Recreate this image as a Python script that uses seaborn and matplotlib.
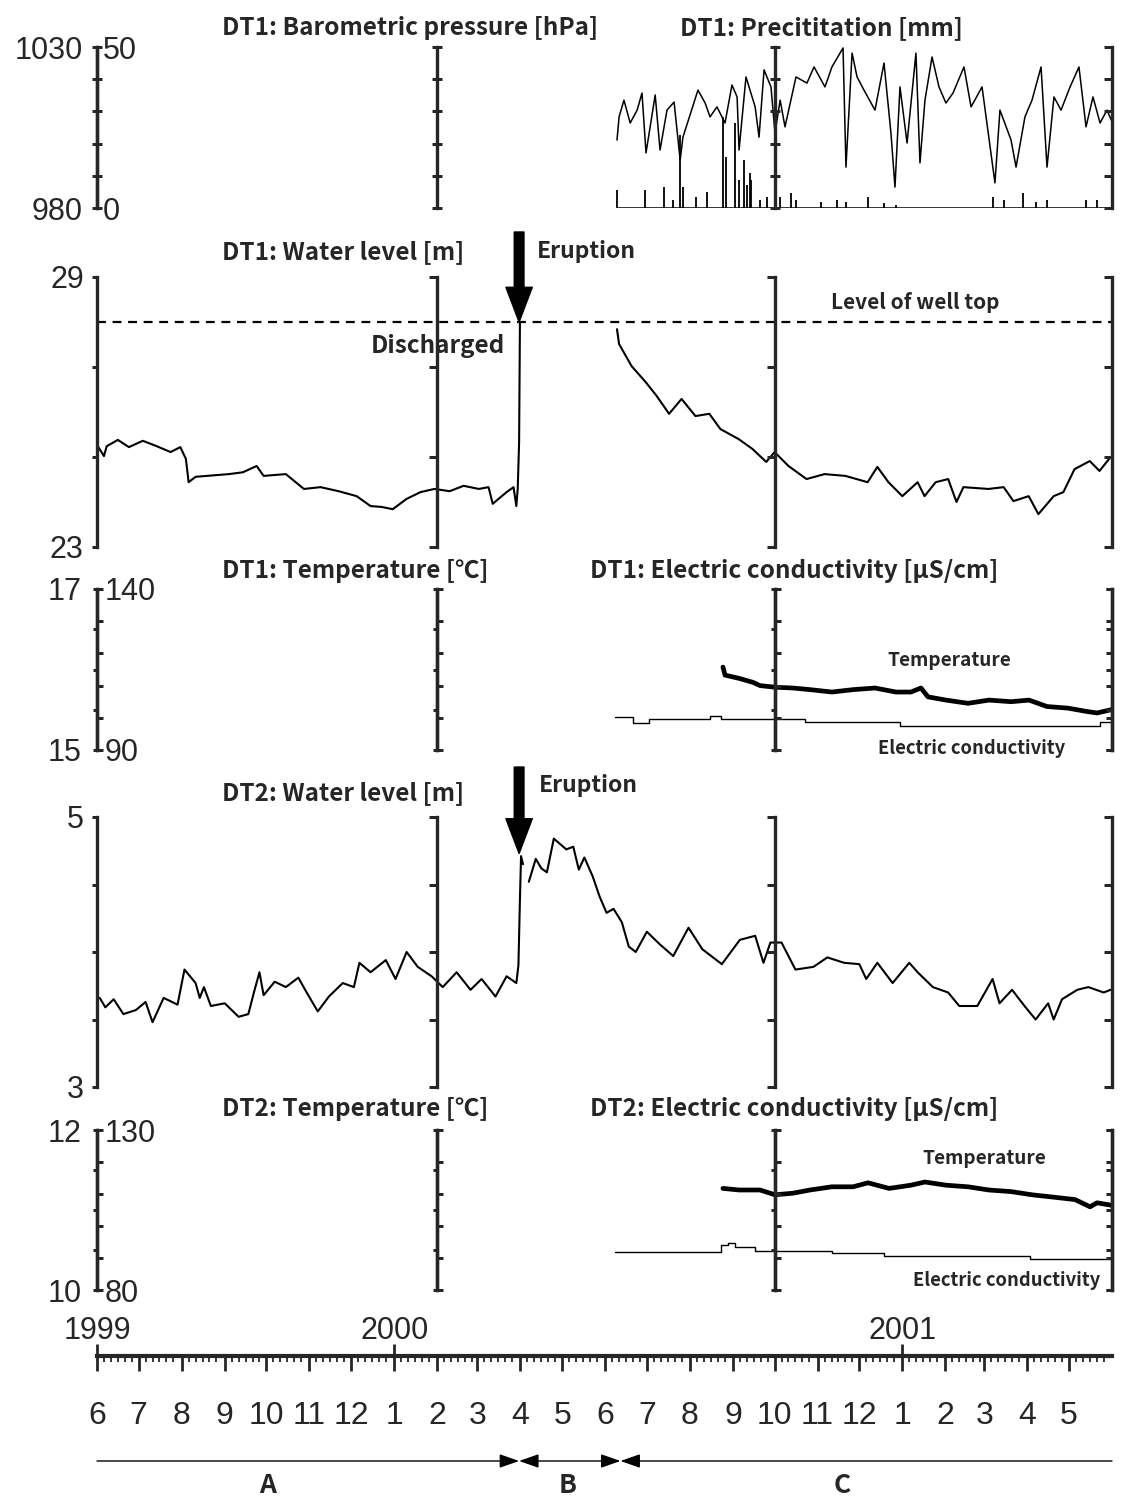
import numpy as np
import pandas as pd
import matplotlib
matplotlib.use("Agg")
import matplotlib.pyplot as plt
import matplotlib.dates as mdates
import matplotlib.ticker as mticker
import seaborn as sns

# ---------------- data (day = days since 1999-06-01) ----------------
START = pd.Timestamp("1999-06-01")
END = pd.Timestamp("2001-06-01")
segment_edges = ["1999-06-01", "2000-02-01", "2000-10-01", "2001-06-01"]
eruption = "2000-03-31"
period_edges = ["1999-06-01", "2000-03-31", "2000-06-12", "2001-06-01"]
period_labels = ["A", "B", "C"]
period_label_day = [123, 339, 537]
well_top_m = 28.0

pressure_day = [374.5, 376, 379.5, 384, 389, 392.5, 395.4, 402, 405.5, 410.5, 415.6, 420, 422,
                432.8, 438, 441.5, 446.5, 452.3, 457.3, 461, 462.4, 467.4, 474, 476.8, 480.4,
                485.4, 488.3, 492, 495.5, 503.4, 511.3, 516.4, 524.3, 529.3, 537.3, 539.4,
                543.8, 547.4, 552.4, 560.3, 566.8, 571.8, 574.7, 578.3, 583.4, 589.8, 592.7,
                596.3, 601.4, 606.4, 611.4, 616.5, 624.4, 629.5, 637.4, 646.7, 650.3, 658.3,
                661.9, 668.3, 673.4, 679.9, 684.2, 689.2, 694.3, 700.8, 707.2, 712.3, 717.3,
                722.4, 727.4, 730.5]
pressure_hpa = [1001.1, 1008.3, 1013.5, 1006.4, 1010.4, 1015.7, 997.1, 1015.1, 998.0, 1010.4,
                1012.9, 994.9, 1002.0, 1016.6, 1012.6, 1008.3, 1011.4, 1006.4, 1018.2, 1014.5,
                998.0, 1020.7, 1011.4, 1002.0, 1022.9, 1017.6, 1003.3, 1013.5, 1005.2, 1020.7,
                1018.8, 1023.8, 1017.6, 1023.8, 1029.7, 992.7, 1028.1, 1020.7, 1016.6, 1010.4,
                1025.0, 1003.3, 986.5, 1017.6, 1000.2, 1028.1, 994.0, 1013.5, 1026.9, 1017.6,
                1012.6, 1015.7, 1023.8, 1011.4, 1017.6, 987.8, 1010.4, 1001.1, 992.7, 1008.3,
                1013.5, 1023.8, 992.7, 1014.5, 1010.4, 1017.6, 1023.8, 1005.2, 1014.5, 1006.4,
                1010.4, 1007.3]

precip_day = [374.5, 394.7, 408.3, 414.8, 419.9, 422.0, 431.4, 439.3, 450.8, 453.0, 459.5,
              462.4, 466, 468, 470.3, 471.0, 477.5, 482.5, 491.9, 499.8, 503.4, 521.4, 533.0,
              539.4, 555.3, 566.8, 575.4, 645.3, 653.2, 666.9, 676.3, 684.2, 712.3, 720.2]
precip_mm = [5.6, 5.6, 6.5, 2.5, 22.7, 6.5, 3.4, 5.0, 28.3, 15.8, 26.4, 8.7, 15.0, 7.0, 10.9,
             8.7, 2.5, 3.4, 3.4, 4.6, 2.5, 1.9, 2.5, 1.9, 3.4, 1.5, 1.0, 3.4, 2.5, 4.6, 1.9,
             2.5, 2.5, 2.5]

dt1_wl_pre_day = [1, 5, 7, 15, 23, 33, 43, 53, 60, 64, 66, 71, 79, 95, 105, 115, 120, 136, 149,
                  161, 174, 187, 197, 205, 213, 223, 233, 243, 254, 264, 275, 282, 285, 295,
                  300, 302, 303, 304, 304.6]
dt1_wl_pre_m = [25.22, 25.02, 25.24, 25.38, 25.22, 25.36, 25.24, 25.11, 25.22, 24.96, 24.44,
                24.56, 24.58, 24.62, 24.66, 24.80, 24.58, 24.62, 24.29, 24.33, 24.24, 24.13,
                23.91, 23.89, 23.84, 24.07, 24.22, 24.29, 24.24, 24.36, 24.29, 24.33, 23.96,
                24.22, 24.33, 23.91, 24.29, 25.33, 28.00]
dt1_wl_post_day = [374.5, 376, 385, 395, 403, 412, 421, 431, 441, 449, 462, 472, 482, 488, 498,
                   511, 524, 539, 555, 562, 570, 580, 591, 596, 604, 613, 619, 624, 642, 653,
                   660, 671, 678, 689, 696, 704, 715, 722, 730]
dt1_wl_post_m = [27.84, 27.51, 27.02, 26.67, 26.36, 25.96, 26.29, 25.91, 25.96, 25.62, 25.40,
                 25.18, 24.89, 25.11, 24.80, 24.51, 24.62, 24.58, 24.44, 24.78, 24.44, 24.13,
                 24.44, 24.13, 24.44, 24.51, 24.00, 24.33, 24.29, 24.33, 24.02, 24.13, 23.73,
                 24.13, 24.22, 24.73, 24.91, 24.69, 25.00]

dt1_temp_day = [450.8, 452.3, 462.4, 472.5, 477.5, 488.3, 501.3, 513.5, 529.3, 544.5, 560.3,
                575.4, 586.2, 593.4, 598.5, 611.4, 627.3, 642.4, 658.3, 671.2, 684.2, 699.3,
                712.3, 720.2, 730.3]
dt1_temp_c = [16.03, 15.93, 15.89, 15.84, 15.80, 15.78, 15.77, 15.75, 15.72, 15.75, 15.77,
              15.72, 15.72, 15.77, 15.66, 15.62, 15.58, 15.62, 15.60, 15.62, 15.54, 15.52,
              15.48, 15.46, 15.50]
dt1_ec_day = [373, 386, 397.5, 441.5, 449.4, 510, 578.3, 722.4, 730.5]
dt1_ec_us = [100.2, 98.4, 99.6, 100.6, 99.6, 98.7, 97.5, 98.7, 98.7]

dt2_wl_pre_day = [2, 6, 12, 19, 28, 35, 40, 48, 58, 63, 71, 74, 77, 82, 92, 102, 109, 113, 117,
                  120, 128, 136, 145, 151, 159, 167, 177, 185, 189, 197, 208, 215, 223, 231,
                  241, 249, 259, 269, 277, 287, 295, 302, 303.5, 304.6, 305.4, 306.8]
dt2_wl_pre_m = [3.66, 3.59, 3.65, 3.54, 3.57, 3.63, 3.48, 3.66, 3.61, 3.87, 3.77, 3.66, 3.74,
                3.60, 3.62, 3.52, 3.54, 3.70, 3.85, 3.68, 3.78, 3.74, 3.81, 3.70, 3.56, 3.67,
                3.77, 3.74, 3.92, 3.85, 3.94, 3.80, 4.00, 3.89, 3.82, 3.74, 3.85, 3.72, 3.80,
                3.67, 3.82, 3.77, 3.90, 4.39, 4.71, 4.65]
dt2_wl_post_day = [311, 316, 320, 324, 329, 338, 343, 347, 351, 357, 362, 367, 372, 378, 383,
                   388, 396, 405, 415, 426, 436, 450, 463, 474, 480, 485, 493, 503, 516, 526,
                   538, 549, 554, 562, 573, 585, 591, 602, 613, 621, 634, 645, 650, 659, 668,
                   676, 685, 689, 695, 706, 714, 725, 730]
dt2_wl_post_m = [4.52, 4.69, 4.62, 4.59, 4.84, 4.76, 4.78, 4.61, 4.70, 4.56, 4.41, 4.29, 4.32,
                 4.22, 4.04, 4.00, 4.15, 4.06, 3.97, 4.18, 4.02, 3.91, 4.09, 4.12, 3.92, 4.07,
                 4.07, 3.87, 3.89, 3.96, 3.92, 3.91, 3.80, 3.92, 3.77, 3.92, 3.85, 3.74, 3.70,
                 3.60, 3.60, 3.80, 3.62, 3.72, 3.60, 3.50, 3.62, 3.50, 3.65, 3.72, 3.74, 3.70,
                 3.72]

dt2_temp_day = [450.8, 462.4, 477.5, 488.3, 501.3, 513.5, 529.3, 544.5, 555.3, 570.4, 586.2,
                596.3, 611.4, 627.3, 642.4, 658.3, 673.4, 689.2, 704.4, 715.2, 720.2, 730.3]
dt2_temp_c = [11.27, 11.25, 11.25, 11.19, 11.21, 11.25, 11.29, 11.29, 11.34, 11.27, 11.31,
              11.35, 11.31, 11.29, 11.25, 11.23, 11.19, 11.16, 11.13, 11.04, 11.09, 11.06]
dt2_ec_day = [373, 449.4, 454.4, 459.5, 473.9, 529.3, 566.8, 671.9, 730.5]
dt2_ec_us = [91.9, 94.1, 94.7, 93.4, 92.2, 91.6, 90.6, 89.7, 89.7]

pressure_ticks = [980, 990, 1000, 1010, 1020, 1030]
dt1_wl_ticks = [23, 25, 27, 29]
dt1_temp_ticks = [15, 15.5, 16, 16.5, 17]
dt1_ec_ticks = [90, 100, 110, 120, 130, 140]
dt2_wl_ticks = [3, 3.5, 4, 4.5, 5]
dt2_temp_ticks = [10, 10.5, 11, 11.5, 12]
dt2_ec_ticks = [80, 90, 100, 110, 120, 130]
month_ticks = pd.date_range("1999-06-01", "2001-05-01", freq="MS")
year_ticks = ["1999-06-01", "2000-01-01", "2001-01-01"]
year_labels = ["1999", "2000", "2001"]

# ---------------- style ----------------
sns.set_theme(style="white")
NUM = ["Liberation Sans", "DejaVu Sans"]
TXT = ["Noto Sans CJK JP", "DejaVu Sans"]
plt.rcParams["font.family"] = NUM

W, H = 1121, 1497
fig = plt.figure(figsize=(W / 100, H / 100), dpi=100)
fig.patch.set_facecolor("white")
L, R = 97 / W, 1112 / W
WF = R - L


def D(days):
    return START + pd.to_timedelta(np.asarray(days, dtype=float), unit="D")


def D1(day):
    return START + pd.Timedelta(days=float(day))


def xfrac(date):
    t = mdates.date2num(pd.Timestamp(date))
    t0, t1 = mdates.date2num(START), mdates.date2num(END)
    return L + (t - t0) / (t1 - t0) * WF


def data_ax(top, bot, ylim):
    ax = fig.add_axes([L, 1 - bot / H, WF, (bot - top) / H])
    ax.set_ylim(*ylim)
    ax.axis("off")
    return ax


def finish(ax, ylim):
    ax.set_xlim(START, END)
    ax.set_ylim(*ylim)
    ax.axis("off")


def bar(date, top, bot, ylim, ticks, side, direction, length, labels=None, pad=4, lw=2.4, fs=22):
    b = fig.add_axes([xfrac(date), 1 - bot / H, 1e-5, (bot - top) / H])
    b.set_ylim(*ylim)
    b.set_xticks([])
    b.patch.set_visible(False)
    for s in b.spines.values():
        s.set_visible(False)
    b.spines[side].set_visible(True)
    b.spines[side].set_linewidth(lw)
    b.yaxis.set_ticks_position(side)
    b.set_yticks(ticks)
    b.set_yticklabels(labels if labels is not None else [""] * len(ticks))
    b.tick_params(axis="y", which="major", direction=direction, length=length,
                  width=lw * 0.9, labelsize=fs, pad=pad)
    return b


def title(x, y, s, fs=17.5, **kw):
    fig.text(x / W, 1 - y / H, s, ha=kw.pop("ha", "left"), va="center", fontsize=fs,
             fontweight="bold", family=TXT, **kw)


# panel rows (top px, bottom px)
P1 = (47, 208)
P2 = (277, 547)
P3 = (589, 750)
P4 = (817, 1087)
P5 = (1130, 1290)

# ---- P1 pressure + precipitation
ax1 = data_ax(*P1, (980, 1030))
sns.lineplot(x=D(pressure_day), y=pressure_hpa, ax=ax1, color="black", linewidth=1.1)
finish(ax1, (980, 1030))
ax1b = data_ax(*P1, (0, 50))
ax1b.vlines(D(precip_day), 0, precip_mm, color="black", linewidth=1.3)
ax1b.hlines(0, D1(precip_day[0]), END, color="black", linewidth=1.1)
finish(ax1b, (0, 50))

# ---- P2 DT1 water level
ax2 = data_ax(*P2, (23, 29))
sns.lineplot(x=D(dt1_wl_pre_day), y=dt1_wl_pre_m, ax=ax2, color="black", linewidth=1.5)
sns.lineplot(x=D(dt1_wl_post_day), y=dt1_wl_post_m, ax=ax2, color="black", linewidth=1.5)
ax2.axhline(well_top_m, color="black", linewidth=1.6, linestyle=(0, (4, 3)))
finish(ax2, (23, 29))
ax2.annotate("", xy=(pd.Timestamp(eruption), well_top_m), xytext=(pd.Timestamp(eruption), 30.0),
             arrowprops=dict(facecolor="black", edgecolor="black", width=7, headwidth=19,
                             headlength=25, shrink=0), annotation_clip=False)
ax2.text(D1(317), 29.56, "Eruption", ha="left", va="center", fontsize=16.5, fontweight="bold",
         family=TXT, clip_on=False)
ax2.text(D1(589), 28.44, "Level of well top", ha="center", va="center", fontsize=15,
         fontweight="bold", family=TXT)
ax2.text(D1(245.6), 27.47, "Discharged", ha="center", va="center", fontsize=17.5,
         fontweight="bold", family=TXT)

# ---- P3 DT1 temperature + EC
ax3 = data_ax(*P3, (15, 17))
sns.lineplot(x=D(dt1_temp_day), y=dt1_temp_c, ax=ax3, color="black", linewidth=3.4)
finish(ax3, (15, 17))
ax3b = data_ax(*P3, (90, 140))
sns.lineplot(x=D(dt1_ec_day), y=dt1_ec_us, ax=ax3b, color="black", linewidth=1.0,
             drawstyle="steps-post")
finish(ax3b, (90, 140))
ax3.text(D1(613.6), 16.11, "Temperature", ha="center", va="center", fontsize=13.7,
         fontweight="bold", family=TXT)
ax3.text(D1(629.8), 15.02, "Electric conductivity", ha="center", va="center", fontsize=13.3,
         fontweight="bold", family=TXT)

# ---- P4 DT2 water level
ax4 = data_ax(*P4, (3, 5))
sns.lineplot(x=D(dt2_wl_pre_day), y=dt2_wl_pre_m, ax=ax4, color="black", linewidth=1.5)
sns.lineplot(x=D(dt2_wl_post_day), y=dt2_wl_post_m, ax=ax4, color="black", linewidth=1.5)
finish(ax4, (3, 5))
ax4.annotate("", xy=(pd.Timestamp(eruption), 4.73), xytext=(pd.Timestamp(eruption), 5.37),
             arrowprops=dict(facecolor="black", edgecolor="black", width=7, headwidth=19,
                             headlength=25, shrink=0), annotation_clip=False)
ax4.text(D1(318.3), 5.23, "Eruption", ha="left", va="center", fontsize=16.5, fontweight="bold",
         family=TXT, clip_on=False)

# ---- P5 DT2 temperature + EC
ax5 = data_ax(*P5, (10, 12))
sns.lineplot(x=D(dt2_temp_day), y=dt2_temp_c, ax=ax5, color="black", linewidth=3.4)
finish(ax5, (10, 12))
ax5b = data_ax(*P5, (80, 130))
sns.lineplot(x=D(dt2_ec_day), y=dt2_ec_us, ax=ax5b, color="black", linewidth=1.0,
             drawstyle="steps-post")
finish(ax5b, (80, 130))
ax5.text(D1(638.8), 11.64, "Temperature", ha="center", va="center", fontsize=13.7,
         fontweight="bold", family=TXT)
ax5.text(D1(655), 10.12, "Electric conductivity", ha="center", va="center", fontsize=13.3,
         fontweight="bold", family=TXT)

# ---------------- vertical bars (segment axes) ----------------
# P1
bar(START, *P1, (980, 1030), pressure_ticks, "left", "inout", 7,
    labels=["980", "", "", "", "", "1030"], pad=7)
bar(START, *P1, (0, 50), [0, 50], "right", "out", 0, labels=["0", "50"], pad=4)
for d in segment_edges[1:3]:
    bar(d, *P1, (980, 1030), pressure_ticks, "left", "inout", 7)
bar(END, *P1, (980, 1030), pressure_ticks, "left", "out", 5.5)

# P2
bar(START, *P2, (23, 29), dt1_wl_ticks, "left", "out", 3.5, labels=["23", "", "", "29"], pad=6)
for d in segment_edges[1:]:
    bar(d, *P2, (23, 29), dt1_wl_ticks, "left", "out", 5.5)

# P3
bar(START, *P3, (15, 17), dt1_temp_ticks, "left", "out", 3, labels=["15", "", "", "", "17"], pad=8)
bar(START, *P3, (90, 140), dt1_ec_ticks, "right", "out", 4.5,
    labels=["90", "", "", "", "", "140"], pad=1)
for d in segment_edges[1:3]:
    bar(d, *P3, (15, 17), dt1_temp_ticks, "left", "out", 3)
    bar(d, *P3, (90, 140), dt1_ec_ticks, "right", "out", 4.5)
bar(END, *P3, (15, 17), dt1_temp_ticks, "left", "out", 4)
bar(END, *P3, (90, 140), dt1_ec_ticks, "left", "out", 4)

# P4
bar(START, *P4, (3, 5), dt2_wl_ticks, "left", "out", 3.5, labels=["3", "", "", "", "5"], pad=6)
for d in segment_edges[1:]:
    bar(d, *P4, (3, 5), dt2_wl_ticks, "left", "out", 5.5)

# P5
bar(START, *P5, (10, 12), dt2_temp_ticks, "left", "out", 3, labels=["10", "", "", "", "12"], pad=8)
bar(START, *P5, (80, 130), dt2_ec_ticks, "right", "out", 4.5,
    labels=["80", "", "", "", "", "130"], pad=1)
for d in segment_edges[1:3]:
    bar(d, *P5, (10, 12), dt2_temp_ticks, "left", "out", 3)
    bar(d, *P5, (80, 130), dt2_ec_ticks, "right", "out", 4.5)
bar(END, *P5, (10, 12), dt2_temp_ticks, "left", "out", 4)
bar(END, *P5, (80, 130), dt2_ec_ticks, "left", "out", 4)

# ---------------- titles ----------------
title(222, 28, "DT1: Barometric pressure [hPa]")
title(680, 28, "DT1: Precititation [mm]")
title(222, 252, "DT1: Water level [m]")
title(222, 571, "DT1: Temperature [℃]")
title(590, 571, "DT1: Electric conductivity [μS/cm]")
title(222, 793, "DT2: Water level [m]")
title(222, 1109, "DT2: Temperature [℃]")
title(590, 1109, "DT2: Electric conductivity [μS/cm]")

# ---------------- time axis ----------------
axt = fig.add_axes([L, 1 - 1356 / H, WF, 1e-5])
axt.set_xlim(START, END)
axt.patch.set_visible(False)
for s in ["left", "right", "top"]:
    axt.spines[s].set_visible(False)
axt.spines["bottom"].set_linewidth(3)
axt.set_yticks([])
axt.set_xticks(month_ticks)
axt.set_xticklabels([str(m.month) for m in month_ticks])
axt.xaxis.set_minor_locator(mdates.DayLocator(bymonthday=[6, 11, 16, 21, 26]))
axt.tick_params(axis="x", which="major", direction="out", length=11, width=2,
                labelsize=23, pad=21.5)
axt.tick_params(axis="x", which="minor", direction="out", length=4.5, width=1.3)

axy = axt.twiny()
axy.set_xlim(START, END)
axy.patch.set_visible(False)
for s in axy.spines.values():
    s.set_visible(False)
axy.xaxis.set_ticks_position("top")
axy.set_xticks([pd.Timestamp(t) for t in year_ticks])
axy.set_xticklabels(year_labels)
axy.tick_params(axis="x", which="major", direction="out", length=8.5, width=2,
                labelsize=22, pad=-1.5)
axy.xaxis.set_minor_locator(mticker.NullLocator())

# ---------------- periods ----------------
axp = fig.add_axes([L, 1 - 1461 / H, WF, 1e-5])
axp.set_xlim(START, END)
axp.set_ylim(-1, 1)
axp.axis("off")
pe = [pd.Timestamp(p) for p in period_edges]
astyle = dict(color="black", lw=1.0, shrinkA=0, shrinkB=0, mutation_scale=12)
axp.annotate("", xy=(pe[1], 0), xytext=(pe[0], 0),
             arrowprops=dict(arrowstyle="-|>,head_length=1.0,head_width=0.35", **astyle),
             annotation_clip=False)
axp.annotate("", xy=(pe[2], 0), xytext=(pe[1], 0),
             arrowprops=dict(arrowstyle="<|-|>,head_length=1.0,head_width=0.35", **astyle),
             annotation_clip=False)
axp.annotate("", xy=(pe[3], 0), xytext=(pe[2], 0),
             arrowprops=dict(arrowstyle="<|-,head_length=1.0,head_width=0.35", **astyle),
             annotation_clip=False)
for lab, d in zip(period_labels, period_label_day):
    axp.annotate(lab, xy=(D1(d), 0), xytext=(0, -17.5), textcoords="offset points",
                 ha="center", va="center", fontsize=19, fontweight="bold", family=TXT,
                 annotation_clip=False)

fig.savefig("out.png", dpi=100, facecolor="white")
